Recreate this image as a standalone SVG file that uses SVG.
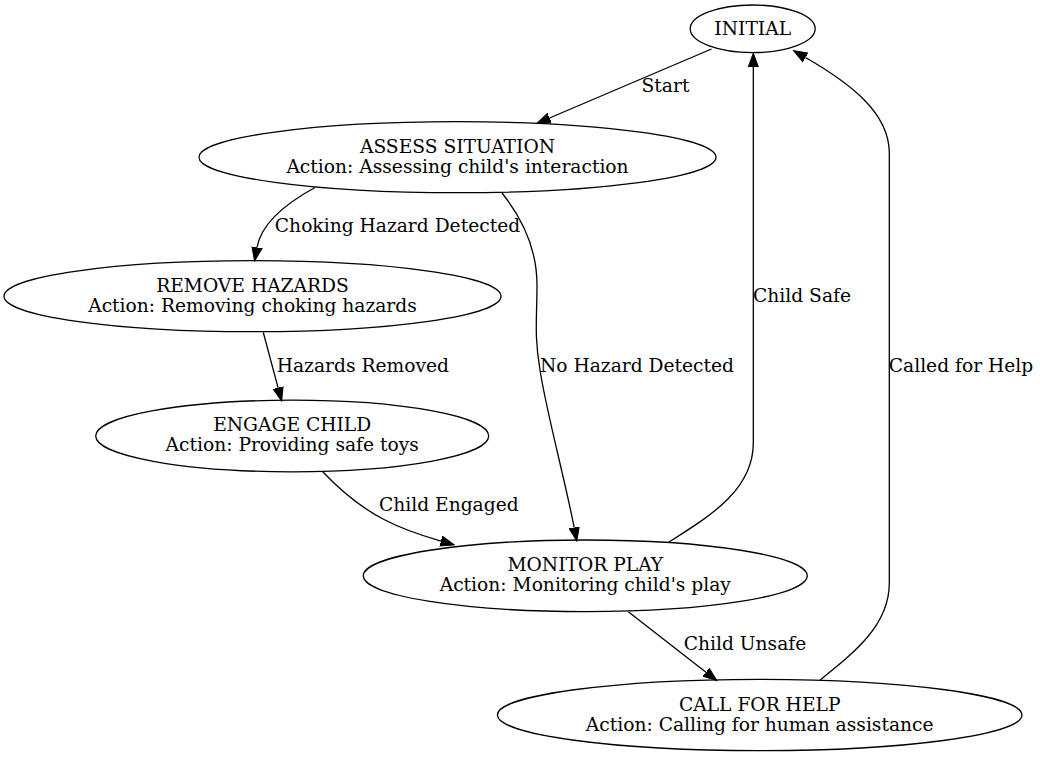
<svg xmlns="http://www.w3.org/2000/svg" width="1040" height="757" viewBox="0 0 1040 757">
<style>
  .node ellipse { fill: none; stroke: #000; stroke-width: 1.3; }
  text { font-family: "DejaVu Serif", "Liberation Serif", serif; font-size: 18.67px; fill: #000; text-anchor: middle; }
  .edge path { fill: none; stroke: #000; stroke-width: 1.3; marker-end: url(#arrow); }
</style>
<defs>
  <marker id="arrow" markerUnits="userSpaceOnUse" viewBox="0 -6 15 12" refX="0" refY="0" markerWidth="15" markerHeight="12" orient="auto">
    <path d="M0,-5.1 L13.8,0 L0,5.1 z" fill="#000" stroke="#000" stroke-width="1"/>
  </marker>
</defs>
<rect width="1040" height="757" fill="#fff"/>

<g id="connectors">
  <g class="edge" id="e-initial-assess">
    <path d="M711.5,49 L549.5,118"/>
    <text x="665.5" y="91.5">Start</text>
  </g>
  <g class="edge" id="e-assess-remove">
    <path d="M315,187.5 C292,200 262,220 257,247.5"/>
    <text x="397.5" y="231.5">Choking Hazard Detected</text>
  </g>
  <g class="edge" id="e-assess-monitor">
    <path d="M502,193 C522,218 537,248 537,285 C537,318 534,335 540,370 C546,410 565,480 574.2,527.6"/>
    <text x="637" y="371.5">No Hazard Detected</text>
  </g>
  <g class="edge" id="e-remove-engage">
    <path d="M263.3,332.5 L278.1,387.8"/>
    <text x="362.8" y="371.5">Hazards Removed</text>
  </g>
  <g class="edge" id="e-engage-monitor">
    <path d="M322.7,471.7 C345,495 365,510 385,520 C402,529 420,535 441,541.1"/>
    <text x="448.8" y="510.5">Child Engaged</text>
  </g>
  <g class="edge" id="e-monitor-initial">
    <path d="M669,542 C710,516 753.3,490 753.3,443 L753.3,67"/>
    <text x="802" y="301.5">Child Safe</text>
  </g>
  <g class="edge" id="e-monitor-call">
    <path d="M628.3,611.7 L706,672.2"/>
    <text x="745" y="650">Child Unsafe</text>
  </g>
  <g class="edge" id="e-call-initial">
    <path d="M820,680 C855,652 889.3,625 889.3,583 L889.3,153 C889.3,112 848,82 805.5,57.5"/>
    <text x="961" y="371.5">Called for Help</text>
  </g>
</g>

<g class="node" id="n-initial">
  <ellipse cx="752.7" cy="28.8" rx="62.5" ry="23.8"/>
  <text x="752.7" y="34.5">INITIAL</text>
</g>
<g class="node" id="n-assess">
  <ellipse cx="457.5" cy="157.2" rx="258.5" ry="35.5"/>
  <text x="457.5" y="152.5">ASSESS SITUATION</text>
  <text x="457.5" y="172.5">Action: Assessing child's interaction</text>
</g>
<g class="node" id="n-remove">
  <ellipse cx="252.5" cy="296.2" rx="248.5" ry="35.5"/>
  <text x="252.5" y="292">REMOVE HAZARDS</text>
  <text x="252.5" y="312">Action: Removing choking hazards</text>
</g>
<g class="node" id="n-engage">
  <ellipse cx="292.2" cy="436" rx="196.5" ry="35.8"/>
  <text x="292.2" y="431.3">ENGAGE CHILD</text>
  <text x="292.2" y="451.3">Action: Providing safe toys</text>
</g>
<g class="node" id="n-monitor">
  <ellipse cx="585.3" cy="575.8" rx="222" ry="35.8"/>
  <text x="585.3" y="571.2">MONITOR PLAY</text>
  <text x="585.3" y="591.2">Action: Monitoring child's play</text>
</g>
<g class="node" id="n-call">
  <ellipse cx="759.7" cy="715" rx="262.3" ry="35.7"/>
  <text x="759.7" y="710.6">CALL FOR HELP</text>
  <text x="759.7" y="730.8">Action: Calling for human assistance</text>
</g>
</svg>
